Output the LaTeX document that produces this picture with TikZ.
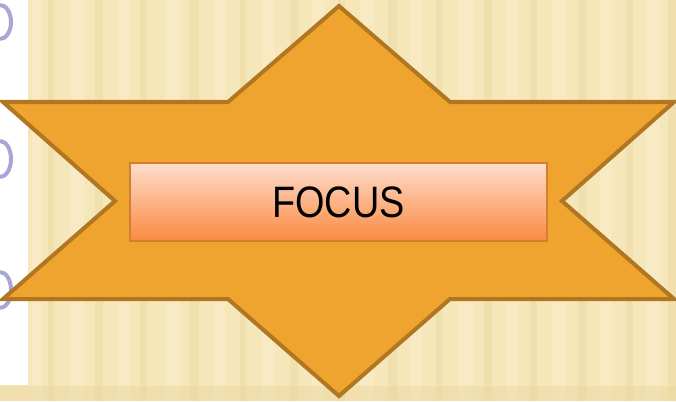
\documentclass[tikz,border=0pt]{standalone}
\usepackage{fontspec}
\setmainfont{Liberation Sans}
\definecolor{bgbase}{HTML}{F6E7BA}
\definecolor{bglight}{HTML}{FBF1CF}
\definecolor{bgdark}{HTML}{EBD8A0}
\definecolor{starfill}{HTML}{EEA42F}
\definecolor{starline}{HTML}{B07621}
\definecolor{boxtop}{HTML}{FDDDCC}
\definecolor{boxbot}{HTML}{FB8942}
\definecolor{boxline}{HTML}{D2802F}
\definecolor{bulletc}{HTML}{A9A6D6}
\tikzset{
  starshape/.style={fill=starfill, draw=starline, line width=4pt, line join=miter},
  focusbox/.style={draw=boxline, line width=1.5pt, top color=boxtop, bottom color=boxbot,
    minimum width=417pt, minimum height=78pt, inner sep=0pt},
  bulletarc/.style={draw=bulletc, line width=4pt},
}
\begin{document}
\begin{tikzpicture}[x=1pt,y=-1pt]
\useasboundingbox (0,0) rectangle (676,401);
% background
\fill[bgbase] (0,0) rectangle (676,401);
\foreach \a/\w/\c in {32/10/bglight,48/6/bgdark,70/14/bglight,95/8/bgdark,118/12/bglight,
  140/7/bgdark,165/15/bglight,190/9/bgdark,214/11/bglight,240/6/bgdark,262/13/bglight,
  290/8/bgdark,312/12/bglight,338/7/bgdark,360/14/bglight,388/9/bgdark,410/12/bglight,
  436/6/bgdark,458/15/bglight,484/8/bgdark,506/12/bglight,530/7/bgdark,552/14/bglight,
  578/9/bgdark,600/12/bglight,626/7/bgdark,646/14/bglight,668/8/bgdark}
  {\fill[\c, opacity=0.45] (\a,0) rectangle (\a+\w,401);}
\fill[bgdark, opacity=0.5] (0,386) rectangle (676,401);
% white strip with bullets
\fill[white] (0,0) rectangle (28,385);
\draw[bulletarc] (0,5) arc[start angle=90, end angle=-90, x radius=11, y radius=-17];
\draw[bulletarc] (0,141) arc[start angle=90, end angle=-90, x radius=11, y radius=-18];
\draw[bulletarc] (0,272) arc[start angle=90, end angle=-90, x radius=11, y radius=-18];
% star
\draw[starshape] (339,6) -- (450,102) -- (674,102) -- (562,201) -- (674,299) -- (450,299)
  -- (339,396) -- (228,299) -- (3,299) -- (115,201) -- (3,102) -- (228,102) -- cycle;
% focus box
\node[focusbox] (focus) at (338.5,202) {};
\node[font=\fontsize{44}{48}\selectfont, xscale=0.86, inner sep=0pt] (focuslabel) at (focus.center) {FOCUS};
\end{tikzpicture}
\end{document}
